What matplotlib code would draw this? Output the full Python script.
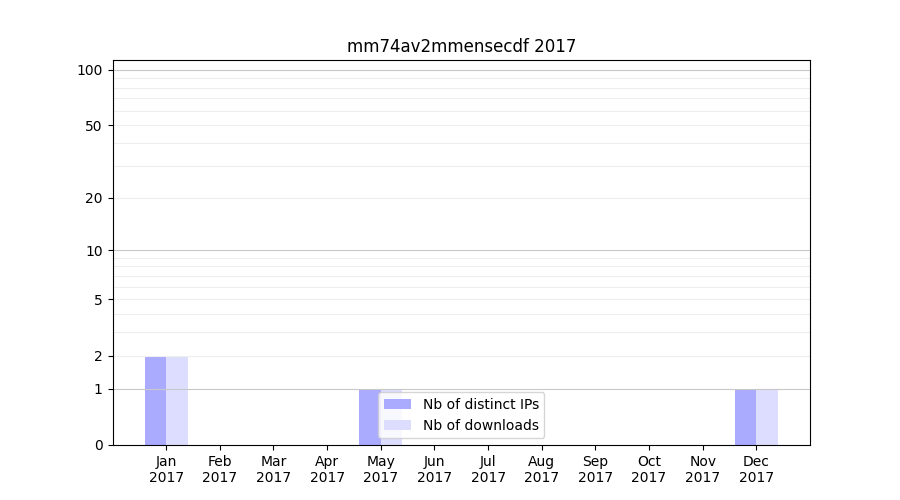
import numpy as np
import matplotlib
matplotlib.use("Agg")
import matplotlib.pyplot as plt

months = ["Jan", "Feb", "Mar", "Apr", "May", "Jun", "Jul", "Aug", "Sep", "Oct", "Nov", "Dec"]
year = "2017"
distinct_ips = [2, 0, 0, 0, 1, 0, 0, 0, 0, 0, 0, 1]
downloads = [2, 0, 0, 0, 1, 0, 0, 0, 0, 0, 0, 1]
yticks = [0, 1, 2, 5, 10, 20, 50, 100]

def fwd(y):
    return np.log10(1 + np.clip(y, 0, None))

def inv(y):
    return 10 ** y - 1

fig = plt.figure(figsize=(9, 5), dpi=100)
ax = fig.add_subplot(111)
ax.set_yscale('function', functions=(fwd, inv))

x = np.arange(len(months))
w = 0.4
ax.bar(x - w / 2, distinct_ips, w, color='#aaaaff', label='Nb of distinct IPs', zorder=1)
ax.bar(x + w / 2, downloads, w, color='#ddddff', label='Nb of downloads', zorder=1)

ax.set_ylim(0, 113)
ax.set_xlim(-1, 12)
ax.set_yticks(yticks)
ax.set_yticklabels([str(v) for v in yticks])
minor = [v for d in (1, 10) for v in range(2 * d, 10 * d, d)]
ax.set_yticks(minor, minor=True)
ax.tick_params(axis='y', which='minor', length=0)
ax.grid(False)
for v in minor:
    ax.axhline(v, color='#eeeeee', linewidth=0.8, zorder=2)
for v in (1, 10, 100):
    ax.axhline(v, color='#c8c8c8', linewidth=0.8, zorder=2)

ax.set_xticks(x)
ax.set_xticklabels([m + "\n" + year for m in months])
ax.set_title("mm74av2mmensecdf " + year)
ax.legend(loc='lower center')

fig.savefig("out.png")
